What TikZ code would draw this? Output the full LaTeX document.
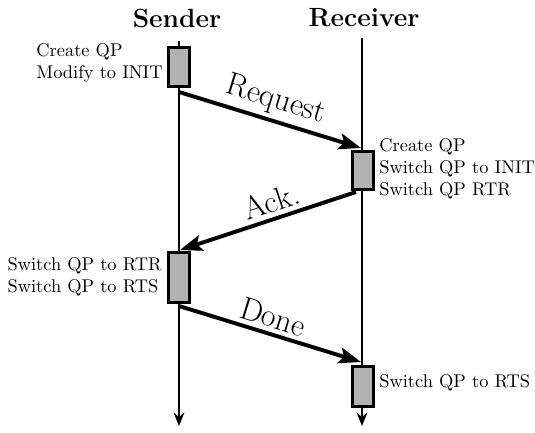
\documentclass[tikz,border=0pt]{standalone}
\usetikzlibrary{arrows.meta}
\tikzset{
  lifeline/.style={line width=1.1pt,-{Stealth[length=7.5pt,width=6pt]}},
  msg/.style={line width=2.2pt,-{Stealth[length=12.5pt,width=9pt,inset=2.5pt]}},
  actbox/.style={draw,fill=black!30,line width=1.8pt,minimum width=11.8pt,inner sep=0pt},
  note/.style={inner sep=0pt,align=left,font=\fontsize{10.35}{12.4}\selectfont},
  title/.style={font=\fontsize{14.8}{18}\selectfont\bfseries},
  msglabel/.style={font=\fontsize{18}{22}\selectfont,sloped,above,inner sep=2.5pt}
}
\begin{document}
\begin{tikzpicture}[x=0.5625pt,y=-0.5625pt]
  \useasboundingbox (0,0) rectangle (535,432);

  % participants
  \node[title] (sender) at (177,18) {Sender};
  \node[title] (receiver) at (364,18) {Receiver};

  % lifelines
  \coordinate (stop) at (179,41);
  \coordinate (sbot) at (179,426);
  \coordinate (rtop) at (362,38);
  \coordinate (rbot) at (362,426);
  \draw[lifeline] (stop) -- (sbot);
  \draw[lifeline] (rtop) -- (rbot);

  % activation boxes
  \node[actbox,minimum height=21.9pt] (b1) at (179,67) {};
  \node[actbox,minimum height=21.4pt] (b2) at (363,170.5) {};
  \node[actbox,minimum height=28.1pt] (b3) at (179,277.5) {};
  \node[actbox,minimum height=22.5pt] (b4) at (363,386.5) {};

  % notes beside the boxes
  \node[note,anchor=east] (n1) at (163,63) {Create QP\\Modify to INIT};
  \node[note,anchor=west] (n2) at (379,169) {Create QP\\Switch QP to INIT\\Switch QP RTR};
  \node[note,anchor=east] (n3) at (162,277) {Switch QP to RTR\\Switch QP to RTS};
  \node[note,anchor=west] (n4) at (379,383) {Switch QP to RTS};

  % message end points
  \coordinate (m1s) at (179,92);
  \coordinate (m1e) at (361,148);
  \coordinate (m2s) at (356,192);
  \coordinate (m2e) at (180,250);
  \coordinate (m3s) at (179,306);
  \coordinate (m3e) at (361,362);

  % messages
  \draw[msg] (m1s) -- node[msglabel] (l1) {Request} (m1e);
  \draw[msg] (m2s) -- node[msglabel,pos=0.45] (l2) {Ack.} (m2e);
  \draw[msg] (m3s) -- node[msglabel,pos=0.49] (l3) {Done} (m3e);
\end{tikzpicture}
\end{document}
